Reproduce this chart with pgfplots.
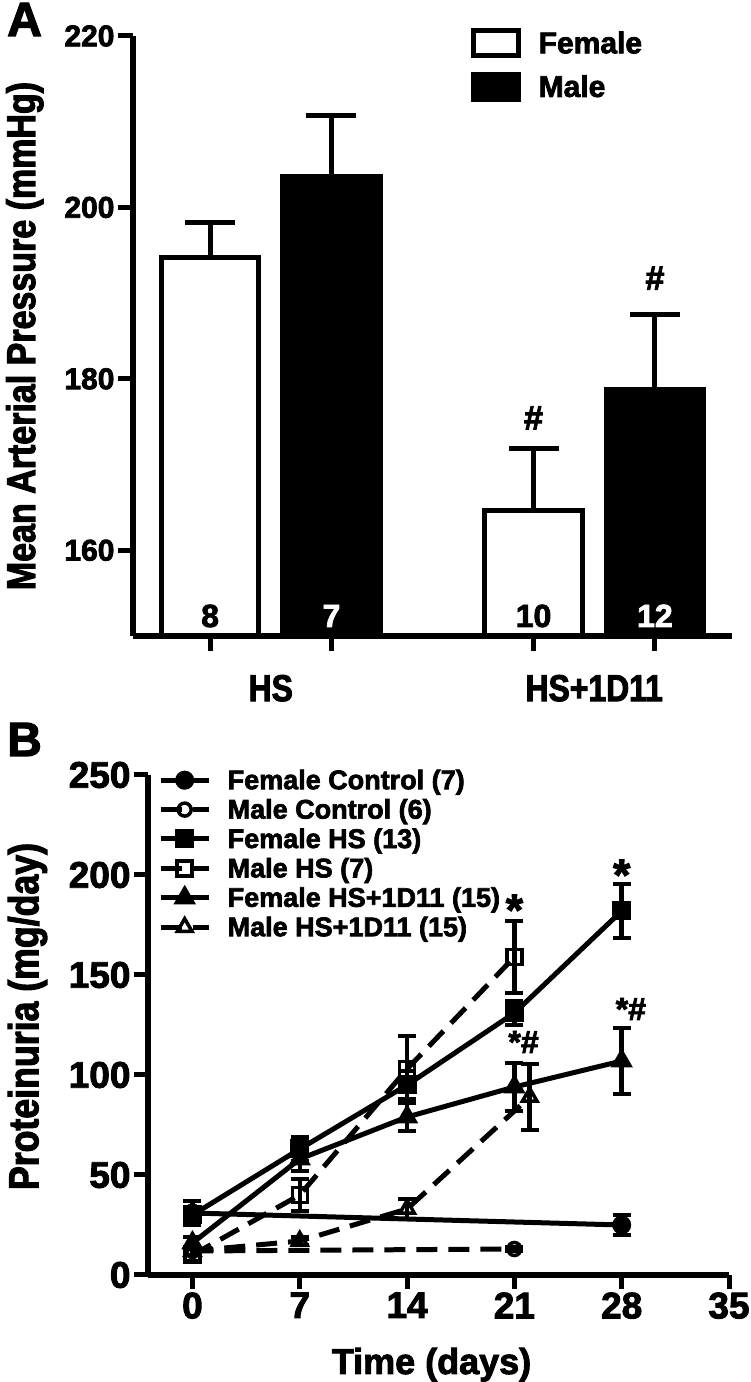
\documentclass[border=0pt]{standalone}
\usepackage{pgfplots}
\pgfplotsset{compat=1.18}
\usepackage{fontspec}
\setmainfont{Liberation Sans}[BoldFeatures={FakeBold=2.5}]
\newfontfamily\condfont{Liberation Sans}[FakeStretch=0.85, BoldFeatures={FakeBold=2.5}]
\newcommand\fs[1]{\fontsize{#1pt}{#1pt}\selectfont\bfseries}
\newcommand\cfs[1]{\condfont\fontsize{#1pt}{#1pt}\selectfont\bfseries}
\begin{document}
\begin{tikzpicture}[x=1pt,y=1pt]
\useasboundingbox (0,0) rectangle (750,1382);
\node[anchor=base west, inner sep=0pt] at (7,1346) {\fs{48}A};
\node[anchor=base west, inner sep=0pt] at (7,626) {\fs{48}B};

% ---------------- Panel A ----------------
\begin{axis}[
  at={(133pt,746pt)}, anchor=south west,
  scale only axis, width=599pt, height=600pt,
  xmin=0, xmax=4.935, ymin=150, ymax=220,
  axis x line=bottom, axis y line=left,
  axis line style={line width=5.5pt, -},
  ytick={160,180,200,220},
  xtick={0.635,1.635,3.30,4.30}, xticklabels={},
  tick align=outside, major tick length=15pt,
  every tick/.style={line width=5pt, black},
  /pgf/number format/assume math mode=true,
  tick label style={font=\fs{30}},
  ylabel={\cfs{40}Mean Arterial Pressure (mmHg)},
  ylabel style={at={(axis description cs:-0.1636,0.5)}, anchor=base},
  clip mode=individual,
  legend style={at={(axis description cs:0.5634,1.0247)}, anchor=north west,
    draw=none, fill=none, inner sep=0pt, row sep=0pt,
    nodes={inner sep=1pt, font=\fs{30}}},
  legend cell align=left,
]
\addplot[ybar, bar width=0.80, bar shift=0pt, draw=black, fill=white, line width=5pt,
  legend image code/.code={\draw[line width=5pt, draw=black, fill=white] (2.5pt,-12.75pt) rectangle (47.5pt,12.75pt); \path[draw=none, fill=none] (0pt,-21.8pt) rectangle (67pt,21.8pt);},
  error bars/.cd, y dir=plus, y explicit,
  error bar style={line width=5pt},
  error mark options={rotate=90, mark size=25pt, line width=5pt},
  ]
  coordinates {(0.635,194.1) +- (0,4.1) (3.30,164.6) +- (0,7.3)};
\addlegendentry{Female}
\addplot[ybar, bar width=0.80, bar shift=0pt, draw=black, fill=black, line width=5pt,
  legend image code/.code={\draw[line width=5pt, draw=black, fill=black] (2.5pt,-12.75pt) rectangle (47.5pt,12.75pt); \path[draw=none, fill=none] (0pt,-21.8pt) rectangle (67pt,21.8pt);},
  error bars/.cd, y dir=plus, y explicit,
  error bar style={line width=5pt},
  error mark options={rotate=90, mark size=25pt, line width=5pt},
  ]
  coordinates {(1.635,203.6) +- (0,7.1) (4.30,178.7) +- (0,8.8)};
\addlegendentry{Male}
\node[anchor=base, inner sep=0pt, font=\fs{32}] at (axis cs:0.635,151.05) {8};
\node[anchor=base, inner sep=0pt, font=\fs{32}, text=white] at (axis cs:1.635,151.05) {7};
\node[anchor=base, inner sep=0pt, font=\fs{32}] at (axis cs:3.30,151.05) {10};
\node[anchor=base, inner sep=0pt, font=\fs{32}, text=white] at (axis cs:4.30,151.05) {12};
\node[anchor=base, inner sep=0pt, font=\fs{34}] at (axis cs:3.30,174.1) {\#};
\node[anchor=base, inner sep=0pt, font=\fs{34}] at (axis cs:4.30,190.4) {\#};
\node[anchor=base, inner sep=0pt, font=\cfs{37.5}] at (axis cs:1.135,142.4) {HS};
\node[anchor=base, inner sep=0pt, font=\cfs{37.5}] at (axis cs:3.80,142.4) {HS+1D11};
\end{axis}

% ---------------- Panel B ----------------
\begin{axis}[
  at={(148pt,107pt)}, anchor=south west,
  scale only axis, width=581pt, height=500pt,
  xmin=-2.9, xmax=35, ymin=0, ymax=250,
  axis x line=bottom, axis y line=left,
  axis line style={line width=6pt, -},
  xtick={0,7,14,21,28,35}, ytick={0,50,100,150,200,250},
  tick align=outside, major tick length=14pt,
  every tick/.style={line width=5pt, black},
  /pgf/number format/assume math mode=true,
  tick label style={font=\fs{37}},
  xlabel={\fs{36}Time (days)},
  xlabel style={at={(axis description cs:0.488,-0.198)}, anchor=base},
  ylabel={\cfs{42}Proteinuria (mg/day)},
  ylabel style={at={(axis description cs:-0.1888,0.517)}, anchor=base},
  clip=false,
  every axis plot/.append style={line width=5pt, black},
  err/.style={error bars/.cd, y dir=both, y explicit,
    error bar style={line width=4.5pt, solid},
    error mark options={rotate=90, mark size=9pt, line width=4.5pt, solid}},
  dsh/.style={dash pattern=on 21pt off 11pt},
  legend style={at={(axis description cs:0.0172,1.0194)}, anchor=north west,
    draw=none, fill=none, inner sep=0pt, row sep=0pt,
    nodes={inner sep=1pt, font=\fs{27}}},
  legend cell align=left,
  legend image code/.code={\draw[mark repeat=2,mark phase=2,#1] plot coordinates {(0pt,0pt) (24pt,0pt) (48pt,0pt)}; \path[draw=none, fill=none] (0pt,-14.7pt) rectangle (66pt,14.7pt);},
]
% Female Control
\addplot[solid, mark=*, mark size=7pt, mark options={solid, fill=black}, err]
  coordinates {(0,31) +- (0,6) (28,25) +- (0,5)};
\addlegendentry{Female Control (7)}
% Male Control
\addplot[dsh, mark=o, mark size=6.5pt, mark options={solid, fill=white, line width=3.5pt}, err]
  coordinates {(0,12) +- (0,2) (21,13) +- (0,1)};
\addlegendentry{Male Control (6)}
% Female HS
\addplot[solid, mark=square*, mark size=7pt, mark options={solid, fill=black}, err]
  coordinates {(0,30) +- (0,4) (7,63) +- (0,6) (14,95) +- (0,7) (21,131) +- (0,6) (28,182) +- (0,13.5)};
\addlegendentry{Female HS (13)}
% Male HS
\addplot[dsh, mark=square, mark size=7.5pt, mark options={solid, fill=white, line width=3.5pt}, err]
  coordinates {(0,10) +- (0,3) (7,40) +- (0,8) (14,103) +- (0,16.5) (21,159) +- (0,18)};
\addlegendentry{Male HS (7)}
% Female HS+1D11
\addplot[solid, mark=triangle*, mark size=8pt, mark options={solid, fill=black}, err]
  coordinates {(0,16) +- (0,3) (7,58) +- (0,6) (14,79) +- (0,7) (21,94) +- (0,12) (28,107) +- (0,16.5)};
\addlegendentry{Female HS+1D11 (15)}
% Male HS+1D11
\addplot[dsh, mark=triangle, mark size=8.5pt, mark options={solid, fill=white, line width=3.5pt}, err]
  coordinates {(0,12) +- (0,2) (7,17) +- (0,2) (14,33) +- (0,5) (22,89) +- (0,16.5)};
\addlegendentry{Male HS+1D11 (15)}
\node[anchor=base, inner sep=0pt, font=\fs{44}] at (axis cs:21,175) {*};
\node[anchor=base, inner sep=0pt, font=\fs{44}] at (axis cs:28,192.5) {*};
\node[anchor=base, inner sep=0pt, font=\fs{32}] at (axis cs:21.6,111) {*\#};
\node[anchor=base, inner sep=0pt, font=\fs{32}] at (axis cs:28.6,127.5) {*\#};
\end{axis}
\end{tikzpicture}
\end{document}
